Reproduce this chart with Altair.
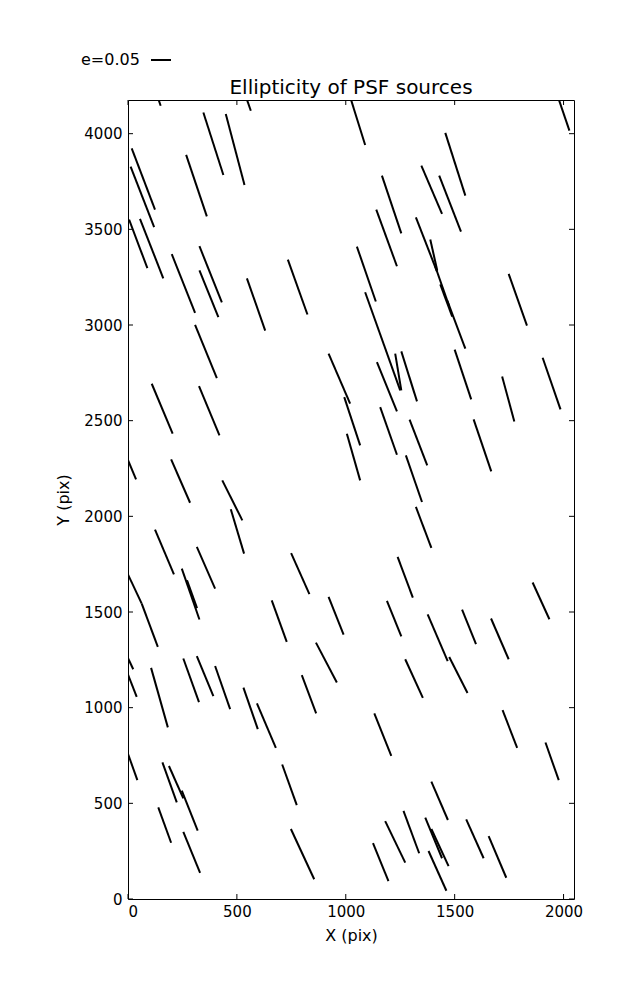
import altair as alt
import pandas as pd

# whisker endpoints (data units: pix)
x_start = [123, 535, 346, 449, 17, 12, 267, 5, 55, 201, 328, 328, 546, 734, 1024, 1974,
           1457, 1166, 1347, 1429, 1140, 1322, 1388, 1411, 1434, 1466, 1051, 1748, 1089,
           308, 109, 326, 921, 993, 1005, 1143, 1227, 1255, 1500, 1718, 1904, 1158, 1293,
           1587, 1276, -7, 198, 433, 1322, 472, 124, 316, 247, 271, -5, 63, 749, 660, 921,
           863, 1238, 1189, 1376, 1534, 1667, 1858, 1273, 1475, -6, -4, 106, 254, 316, 400,
           530, 592, 798, 1131, 1720, 1917, -3, 158, 188, 247, 139, 254, 708, 748, 1393,
           1125, 1181, 1265, 1365, 1393, 1380, 1553, 1656]
y_start = [4235, 4214, 4111, 4103, 3923, 3828, 3889, 3551, 3555, 3370, 3412, 3285, 3244,
           3342, 4178, 4193, 4004, 3781, 3833, 3781, 3603, 3563, 3447, 3306, 3212, 3128,
           3410, 3267, 3171, 3001, 2693, 2680, 2850, 2623, 2432, 2806, 2850, 2862, 2871,
           2731, 2829, 2571, 2505, 2507, 2319, 2313, 2298, 2188, 2049, 2037, 1931, 1840,
           1727, 1666, 1708, 1544, 1808, 1561, 1579, 1340, 1788, 1558, 1488, 1513, 1466,
           1654, 1253, 1265, 1274, 1185, 1208, 1257, 1269, 1218, 1105, 1022, 1170, 970,
           987, 818, 768, 714, 695, 566, 479, 351, 703, 366, 613, 292, 407, 461, 425, 366,
           251, 416, 329]
x_end = [150, 564, 438, 535, 124, 120, 362, 89, 162, 308, 431, 415, 630, 824, 1089, 2027,
         1549, 1255, 1442, 1529, 1235, 1419, 1420, 1475, 1489, 1549, 1138, 1832, 1250,
         408, 205, 420, 1020, 1066, 1066, 1235, 1255, 1327, 1576, 1774, 1986, 1235, 1374,
         1668, 1350, 37, 285, 525, 1393, 533, 211, 400, 328, 317, 63, 137, 833, 729, 990,
         959, 1308, 1255, 1468, 1598, 1748, 1935, 1354, 1559, 24, 40, 183, 326, 392, 469,
         596, 679, 864, 1209, 1787, 1978, 43, 224, 254, 320, 198, 331, 775, 855, 1469,
         1196, 1273, 1337, 1442, 1472, 1462, 1633, 1737]
y_end = [4146, 4120, 3784, 3732, 3603, 3511, 3568, 3297, 3244, 3064, 3118, 3041, 2971,
         3055, 3941, 4016, 3676, 3479, 3581, 3488, 3307, 3279, 3285, 3097, 3044, 2877,
         3123, 2997, 2658, 2722, 2432, 2423, 2589, 2371, 2188, 2548, 2658, 2601, 2611,
         2496, 2559, 2322, 2266, 2235, 2075, 2193, 2071, 1979, 1835, 1805, 1697, 1622,
         1461, 1520, 1544, 1318, 1593, 1344, 1382, 1132, 1575, 1373, 1243, 1332, 1253,
         1462, 1051, 1077, 1201, 1056, 897, 1029, 1060, 992, 888, 790, 970, 748, 790,
         621, 621, 505, 526, 357, 294, 137, 491, 103, 413, 94, 190, 239, 213, 172, 43,
         213, 111]

x_ticks = [0, 500, 1000, 1500, 2000]
y_ticks = [0, 500, 1000, 1500, 2000, 2500, 3000, 3500, 4000]
x_domain = [0, 2048]
y_domain = [0, 4176]

title_text = "Ellipticity of PSF sources"
legend_label = "e=0.05"

W, H = 446, 799
FONT = "DejaVu Sans"

df = pd.DataFrame({"x": x_start, "y": y_start, "x2": x_end, "y2": y_end})
xt = pd.DataFrame({"v": x_ticks})
yt = pd.DataFrame({"v": y_ticks})

xscale = alt.Scale(domain=x_domain, nice=False, zero=False)
yscale = alt.Scale(domain=y_domain, nice=False, zero=False)

whiskers = alt.Chart(df).mark_rule(color="black", strokeWidth=2, clip=True).encode(
    x=alt.X("x:Q", scale=xscale,
            axis=alt.Axis(title="X (pix)", values=x_ticks, ticks=False, domain=False,
                          grid=False, labelPadding=5, titlePadding=8, format="d")),
    y=alt.Y("y:Q", scale=yscale,
            axis=alt.Axis(title="Y (pix)", values=y_ticks, ticks=False, domain=False,
                          grid=False, labelPadding=6, titlePadding=12, format="d")),
    x2="x2:Q",
    y2="y2:Q",
)

tick_kw = dict(color="black", strokeWidth=1)
bottom_ticks = alt.Chart(xt).mark_rule(**tick_kw).encode(
    x="v:Q", y=alt.value(H), y2=alt.value(H - 5))
top_ticks = alt.Chart(xt).mark_rule(**tick_kw).encode(
    x="v:Q", y=alt.value(0), y2=alt.value(5))
left_ticks = alt.Chart(yt).mark_rule(**tick_kw).encode(
    y="v:Q", x=alt.value(0), x2=alt.value(5))
right_ticks = alt.Chart(yt).mark_rule(**tick_kw).encode(
    y="v:Q", x=alt.value(W), x2=alt.value(W - 5))

label_df = pd.DataFrame({"t": [legend_label], "title": [title_text]})
legend_text = alt.Chart(label_df).mark_text(
    align="left", baseline="middle", fontSize=16, font=FONT, color="black"
).encode(x=alt.value(-47), y=alt.value(-40), text="t:N")
legend_line = alt.Chart(label_df).mark_rule(
    color="black", strokeWidth=2
).encode(x=alt.value(23), x2=alt.value(43), y=alt.value(-40))
title_mark = alt.Chart(label_df).mark_text(
    align="center", baseline="alphabetic", fontSize=20, font=FONT, color="black"
).encode(x=alt.value(W / 2), y=alt.value(-6), text="title:N")

chart = alt.layer(
    whiskers, bottom_ticks, top_ticks, left_ticks, right_ticks,
    legend_text, legend_line, title_mark
).properties(
    width=W, height=H,
    autosize=alt.AutoSizeParams(type="none"),
    padding={"left": 120, "top": 92, "right": 55, "bottom": 80},
).configure_view(
    stroke="black", strokeWidth=1
).configure_axis(
    labelFont=FONT, labelFontSize=15, labelColor="black",
    titleFont=FONT, titleFontSize=16, titleFontWeight="normal", titleColor="black",
)

chart.save("out.html", embed_options={"renderer": "svg", "actions": False})
